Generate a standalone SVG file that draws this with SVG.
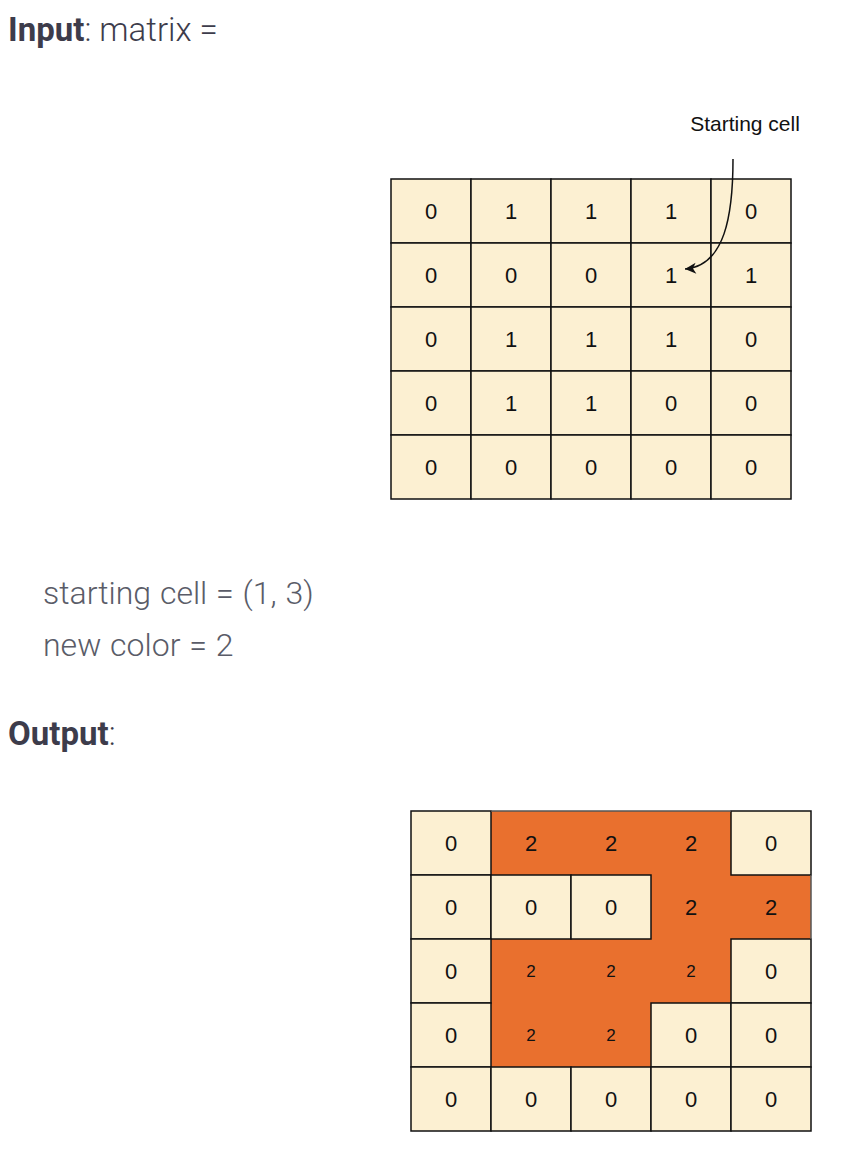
<svg xmlns="http://www.w3.org/2000/svg" width="848" height="1152" viewBox="0 0 848 1152">
<style>
.h{font-family:Roboto,"Noto Sans",sans-serif;font-size:33px;fill:#3d3c4b;font-weight:300}
.b{font-weight:bold}
.p{font-family:Roboto,"Noto Sans",sans-serif;font-size:32px;fill:#5a5c68;font-weight:300}
.c{fill:#fcf0d2;stroke:#111;stroke-width:1.5}
.o{fill:#e9702e}
.t{font-family:"Liberation Sans",Arial,sans-serif;font-size:22px;fill:#111;text-anchor:middle;dominant-baseline:central}
.s{font-size:17px}
</style>
<defs>
<marker id="ah" markerWidth="14" markerHeight="14" refX="12" refY="7" orient="auto" markerUnits="userSpaceOnUse">
<path d="M1,1.5 L12,7 L1,12.5 L4,7 Z" fill="#111"/>
</marker>
</defs>
<rect width="848" height="1152" fill="#fff"/>
<g id="texts">
<text x="8" y="41" class="h"><tspan class="b">Input</tspan>: matrix =</text>
<text x="43" y="604" class="p" word-spacing="1">starting cell = (1, 3)</text>
<text x="43" y="656" class="p" word-spacing="1">new color = 2</text>
<text x="8" y="745" class="h"><tspan class="b">Output</tspan>:</text>
</g>
<g id="input-grid">
<rect class="c" x="391" y="179" width="80" height="64"/><text class="t" x="431" y="211">0</text>
<rect class="c" x="471" y="179" width="80" height="64"/><text class="t" x="511" y="211">1</text>
<rect class="c" x="551" y="179" width="80" height="64"/><text class="t" x="591" y="211">1</text>
<rect class="c" x="631" y="179" width="80" height="64"/><text class="t" x="671" y="211">1</text>
<rect class="c" x="711" y="179" width="80" height="64"/><text class="t" x="751" y="211">0</text>
<rect class="c" x="391" y="243" width="80" height="64"/><text class="t" x="431" y="275">0</text>
<rect class="c" x="471" y="243" width="80" height="64"/><text class="t" x="511" y="275">0</text>
<rect class="c" x="551" y="243" width="80" height="64"/><text class="t" x="591" y="275">0</text>
<rect class="c" x="631" y="243" width="80" height="64"/><text class="t" x="671" y="275">1</text>
<rect class="c" x="711" y="243" width="80" height="64"/><text class="t" x="751" y="275">1</text>
<rect class="c" x="391" y="307" width="80" height="64"/><text class="t" x="431" y="339">0</text>
<rect class="c" x="471" y="307" width="80" height="64"/><text class="t" x="511" y="339">1</text>
<rect class="c" x="551" y="307" width="80" height="64"/><text class="t" x="591" y="339">1</text>
<rect class="c" x="631" y="307" width="80" height="64"/><text class="t" x="671" y="339">1</text>
<rect class="c" x="711" y="307" width="80" height="64"/><text class="t" x="751" y="339">0</text>
<rect class="c" x="391" y="371" width="80" height="64"/><text class="t" x="431" y="403">0</text>
<rect class="c" x="471" y="371" width="80" height="64"/><text class="t" x="511" y="403">1</text>
<rect class="c" x="551" y="371" width="80" height="64"/><text class="t" x="591" y="403">1</text>
<rect class="c" x="631" y="371" width="80" height="64"/><text class="t" x="671" y="403">0</text>
<rect class="c" x="711" y="371" width="80" height="64"/><text class="t" x="751" y="403">0</text>
<rect class="c" x="391" y="435" width="80" height="64"/><text class="t" x="431" y="467">0</text>
<rect class="c" x="471" y="435" width="80" height="64"/><text class="t" x="511" y="467">0</text>
<rect class="c" x="551" y="435" width="80" height="64"/><text class="t" x="591" y="467">0</text>
<rect class="c" x="631" y="435" width="80" height="64"/><text class="t" x="671" y="467">0</text>
<rect class="c" x="711" y="435" width="80" height="64"/><text class="t" x="751" y="467">0</text>
</g>
<g id="label-starting-cell">
<text x="745" y="131" font-family="'Liberation Sans',Arial,sans-serif" font-size="21" fill="#111" text-anchor="middle">Starting cell</text>
</g>
<g id="connectors">
<path d="M733,159 C733,215 725,266 685,269" fill="none" stroke="#111" stroke-width="1.5" marker-end="url(#ah)"/>
</g>
<g id="output-grid">
<path class="o" d="M491,811 H731 V875 H811 V939 H731 V1003 H651 V1067 H491 Z"/>
<rect class="c" x="411" y="811" width="80" height="64"/><text class="t" x="451" y="843">0</text>
<text class="t" x="531" y="843">2</text>
<text class="t" x="611" y="843">2</text>
<text class="t" x="691" y="843">2</text>
<rect class="c" x="731" y="811" width="80" height="64"/><text class="t" x="771" y="843">0</text>
<rect class="c" x="411" y="875" width="80" height="64"/><text class="t" x="451" y="907">0</text>
<rect class="c" x="491" y="875" width="80" height="64"/><text class="t" x="531" y="907">0</text>
<rect class="c" x="571" y="875" width="80" height="64"/><text class="t" x="611" y="907">0</text>
<text class="t" x="691" y="907">2</text>
<text class="t" x="771" y="907">2</text>
<rect class="c" x="411" y="939" width="80" height="64"/><text class="t" x="451" y="971">0</text>
<text class="t s" x="531" y="971">2</text>
<text class="t s" x="611" y="971">2</text>
<text class="t s" x="691" y="971">2</text>
<rect class="c" x="731" y="939" width="80" height="64"/><text class="t" x="771" y="971">0</text>
<rect class="c" x="411" y="1003" width="80" height="64"/><text class="t" x="451" y="1035">0</text>
<text class="t s" x="531" y="1035">2</text>
<text class="t s" x="611" y="1035">2</text>
<rect class="c" x="651" y="1003" width="80" height="64"/><text class="t" x="691" y="1035">0</text>
<rect class="c" x="731" y="1003" width="80" height="64"/><text class="t" x="771" y="1035">0</text>
<rect class="c" x="411" y="1067" width="80" height="64"/><text class="t" x="451" y="1099">0</text>
<rect class="c" x="491" y="1067" width="80" height="64"/><text class="t" x="531" y="1099">0</text>
<rect class="c" x="571" y="1067" width="80" height="64"/><text class="t" x="611" y="1099">0</text>
<rect class="c" x="651" y="1067" width="80" height="64"/><text class="t" x="691" y="1099">0</text>
<rect class="c" x="731" y="1067" width="80" height="64"/><text class="t" x="771" y="1099">0</text>
<path d="M491,811 H731 M811,875 V939" fill="none" stroke="#555" stroke-width="1.5"/>
</g>
</svg>
